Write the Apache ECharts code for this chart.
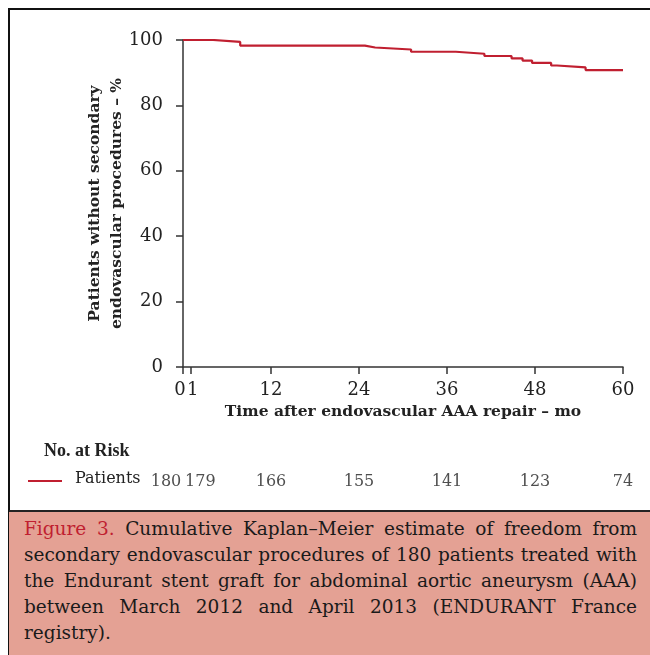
<!DOCTYPE html>
<html>
<head>
<meta charset="utf-8">
<script src="https://cdn.jsdelivr.net/npm/echarts@6/dist/echarts.min.js"></script>
<style>
  html, body { margin: 0; padding: 0; background: #fff; }
  #wrap { position: relative; width: 650px; height: 655px; overflow: hidden; }
  #chart { position: absolute; left: 0; top: 0; width: 650px; height: 655px; }
  #frameTop { position: absolute; left: 9px; top: 8px; width: 660px; height: 2px; background: #111; }
  #frameLeft { position: absolute; left: 8px; top: 8px; width: 2px; height: 660px; background: #111; }
  #caption { position: absolute; left: 9px; top: 510px; width: 660px; height: 160px; background: #e4a194; border-top: 2px solid #222; }
  #capText { position: absolute; left: 15px; top: 4px; width: 613px; font-family: "DejaVu Serif", serif; font-size: 18.5px; line-height: 26px; color: #1a1a1a; }
  #capText div { text-align: justify; text-align-last: justify; white-space: nowrap; }
  #capText div.last { text-align-last: left; }
  .fig { color: #c01f30; }
</style>
</head>
<body>
<div id="wrap">
  <div id="chart"></div>
  <div id="frameTop"></div>
  <div id="frameLeft"></div>
  <div id="caption">
    <div id="capText">
      <div><span class="fig">Figure 3.</span> Cumulative Kaplan–Meier estimate of freedom from</div>
      <div>secondary endovascular procedures of 180 patients treated with</div>
      <div>the Endurant stent graft for abdominal aortic aneurysm (AAA)</div>
      <div>between March 2012 and April 2013 (ENDURANT France</div>
      <div class="last">registry).</div>
    </div>
  </div>
</div>
<script>
// Kaplan–Meier step points (month, % free of secondary procedures)
const months = [0, 4.1, 7.8, 24.8, 26.2, 31.1, 37.2, 41.1, 44.8, 46.3, 47.6, 50.2, 51.0, 54.9, 60];
const survival = [100, 99.4, 98.3, 97.7, 97.1, 96.4, 95.8, 95.1, 94.4, 93.7, 93.0, 92.2, 91.6, 90.8, 90.8];
// x tick labels (main ticks and the extra "1" month tick)
const xTicks = [0, 12, 24, 36, 48, 60];
const xExtraTicks = [1];
// number at risk
const riskMonths = [0, 1, 12, 24, 36, 48, 60];
const riskValues = [180, 179, 166, 155, 141, 123, 74];
const riskLabelShift = [-17, 10, 0, 0, 0, 0, 0];

const FONT = '"DejaVu Serif", serif';
const AXIS = '#333';
const RED = '#c01f30';

const chart = echarts.init(document.getElementById('chart'), null, { renderer: 'canvas' });

const kmData = months.map((m, i) => [m, survival[i]]);
const riskData = riskMonths.map((m, i) => ({
  value: [m, 0],
  label: { offset: [riskLabelShift[i], 0], formatter: String(riskValues[i]) }
}));

const labelStyle = { fontFamily: FONT, fontSize: 18, color: '#222', margin: 14, showMinLabel: true, showMaxLabel: true, hideOverlap: false };

const option = {
  animation: false,
  backgroundColor: '#fff',
  grid: [
    { left: 183, right: 27, top: 40, bottom: 288, containLabel: false },
    { left: 183, right: 27, top: 472, height: 20, containLabel: false }
  ],
  xAxis: [
    {
      gridIndex: 0, type: 'value', min: 0, max: 60, interval: 12,
      name: 'Time after endovascular AAA repair – mo',
      nameLocation: 'middle', nameGap: 37, nameMoveOverlap: false,
      nameTextStyle: { fontFamily: FONT, fontWeight: 'bold', fontSize: 15.5, color: '#222' },
      axisLine: { show: true, onZero: false, lineStyle: { color: AXIS, width: 1.5 } },
      axisTick: { show: true, length: 7, lineStyle: { color: AXIS, width: 1.5 }, customValues: xTicks },
      axisLabel: Object.assign({
        customValues: xTicks,
        formatter: v => (v === 0 ? '{z|0}' : String(v)),
        rich: { z: { fontFamily: FONT, fontSize: 18, color: '#222', padding: [0, 6, 0, 0] } }
      }, labelStyle),
      splitLine: { show: false }
    },
    {
      gridIndex: 1, type: 'value', min: 0, max: 60, show: false
    },
    {
      gridIndex: 0, type: 'value', min: 0, max: 60, position: 'bottom',
      axisLine: { show: false, onZero: false },
      axisTick: { show: true, length: 7, lineStyle: { color: AXIS, width: 1.5 }, customValues: xExtraTicks },
      axisLabel: Object.assign({
        customValues: xExtraTicks,
        formatter: v => '{o|' + v + '}',
        rich: { o: { fontFamily: FONT, fontSize: 18, color: '#222', padding: [0, 0, 0, 5] } }
      }, labelStyle),
      splitLine: { show: false }
    }
  ],
  yAxis: [
    {
      gridIndex: 0, type: 'value', min: 0, max: 100, interval: 20,
      name: 'Patients without secondary\nendovascular procedures – %',
      nameLocation: 'middle', nameGap: 55, nameRotate: 90, nameMoveOverlap: false,
      nameTextStyle: { fontFamily: FONT, fontWeight: 'bold', fontSize: 15.5, color: '#222', lineHeight: 22 },
      axisLine: { show: true, onZero: false, lineStyle: { color: AXIS, width: 1.5 } },
      axisTick: { show: true, length: 7, lineStyle: { color: AXIS, width: 1.5 } },
      axisLabel: { fontFamily: FONT, fontSize: 18, color: '#222', margin: 20, showMinLabel: true },
      splitLine: { show: false }
    },
    { gridIndex: 1, type: 'value', min: -1, max: 1, show: false }
  ],
  graphic: [
    { type: 'text', left: 44, top: 442, style: { text: 'No. at Risk', font: 'bold 18px "Liberation Serif", serif', fill: '#222' } },
    { type: 'line', shape: { x1: 28, y1: 481, x2: 62, y2: 481 }, style: { stroke: RED, lineWidth: 2 } },
    { type: 'text', left: 75, top: 471, style: { text: 'Patients', font: '16px ' + FONT, fill: '#222' } }
  ],
  series: [
    {
      type: 'line', xAxisIndex: 0, yAxisIndex: 0,
      data: kmData, step: 'end', symbol: 'none',
      lineStyle: { color: RED, width: 2.2 }
    },
    {
      type: 'scatter', xAxisIndex: 1, yAxisIndex: 1,
      data: riskData, symbolSize: 0, silent: true,
      label: { show: true, position: 'inside', fontFamily: FONT, fontSize: 16, color: '#222' }
    }
  ]
};
chart.setOption(option);
</script>
</body>
</html>
